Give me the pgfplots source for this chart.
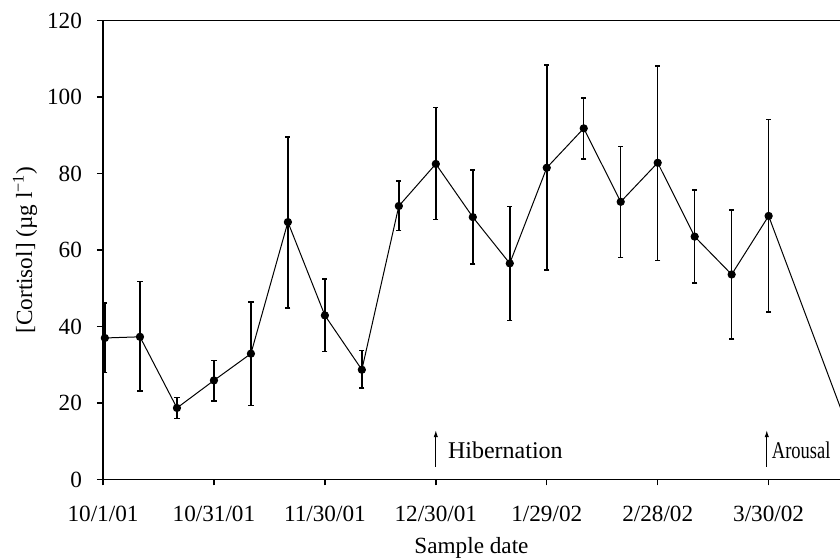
\documentclass[border=0pt]{standalone}
\usepackage{graphicx}
\usepackage{pgfplots}
\pgfplotsset{compat=1.18}
\usepackage{fontspec}
\setmainfont{Liberation Serif}
\usetikzlibrary{calc,arrows.meta}
\begin{document}
\begin{tikzpicture}
\begin{axis}[
  name=ax,
  scale only axis,
  width=368.5pt, height=229.5pt,
  xmin=0, xmax=199.3, ymin=0, ymax=120,
  axis x line*=bottom, axis y line*=left,
  axis line style={line width=0.75pt, black},
  tick align=outside,
  major tick length=3pt,
  tick style={line width=0.7pt, black},
  xtick={0,30,60,90,120,150,180},
  xticklabels={10/1/01,10/31/01,11/30/01,12/30/01,1/29/02,2/28/02,3/30/02},
  ytick={0,20,40,60,80,100,120},
  /pgf/number format/assume math mode=true,
  tick label style={font=\fontsize{11.6}{13}\selectfont},
  xticklabel style={yshift=-7pt},
  yticklabel style={xshift=-4pt},
  label style={font=\fontsize{11.6}{13}\selectfont},
  ylabel={[Cortisol] (µg l\textsuperscript{−1})},
  ylabel style={at={(axis description cs:-0.1058,0.5)}, anchor=center},
  xlabel={Sample date},
  xlabel style={at={(axis description cs:0.5,-0.1612)}, anchor=base},
  clip=true,
]
\draw[line width=0.75pt] (rel axis cs:0,1) -- (rel axis cs:1,1);
\addplot[black, line width=0.5pt, mark=*, mark size=1.8pt,
  error bars/.cd, y dir=both, y explicit,
  error bar style={line width=0.75pt},
  error mark options={line width=0.75pt, mark size=1.3pt, rotate=90}]
coordinates {
  (0.5,37.0)   += (0,9.1)  -= (0,9.0)
  (10,37.3)    += (0,14.4) -= (0,14.1)
  (20,18.7)    += (0,2.7)  -= (0,2.8)
  (30,25.9)    += (0,5.2)  -= (0,5.4)
  (40,32.9)    += (0,13.5) -= (0,13.6)
  (50,67.3)    += (0,22.3) -= (0,22.5)
  (60,42.9)    += (0,9.5)  -= (0,9.4)
  (70,28.7)    += (0,5.0)  -= (0,4.8)
  (80,71.5)    += (0,6.5)  -= (0,6.4)
  (90,82.5)    += (0,14.7) -= (0,14.5)
  (100,68.6)   += (0,12.3) -= (0,12.3)
  (110,56.5)   += (0,14.9) -= (0,14.9)
  (120,81.5)   += (0,26.8) -= (0,26.7)
  (130,91.8)   += (0,7.9)  -= (0,8.0)
  (140,72.6)   += (0,14.5) -= (0,14.6)
  (150,82.8)   += (0,25.3) -= (0,25.5)
  (160,63.5)   += (0,12.2) -= (0,12.1)
  (170,53.6)   += (0,16.8) -= (0,16.9)
  (180,68.9)   += (0,25.2) -= (0,25.1)
  (201,14.7)   += (0,5.0)  -= (0,5.0)
};
\draw[line width=0.55pt, -{Latex[length=3.5pt,width=2.2pt]}] (axis cs:90,3.35) -- (axis cs:90,12.9);
\node[anchor=base west, inner sep=0pt, font=\fontsize{12}{13}\selectfont] at (axis cs:93.2,5.5) {Hibernation};
\draw[line width=0.55pt, -{Latex[length=3.5pt,width=2.2pt]}] (axis cs:179.5,3.35) -- (axis cs:179.5,12.9);
\node[anchor=base west, inner sep=0pt, font=\fontsize{12}{13}\selectfont] at (axis cs:180.8,5.5) {\scalebox{0.77}[1]{Arousal}};
\end{axis}
\pgfresetboundingbox
\path[use as bounding box] ($(ax.south west)+(-51.5pt,-40.25pt)$) rectangle ($(ax.north east)+(0,10.25pt)$);
\end{tikzpicture}
\end{document}
